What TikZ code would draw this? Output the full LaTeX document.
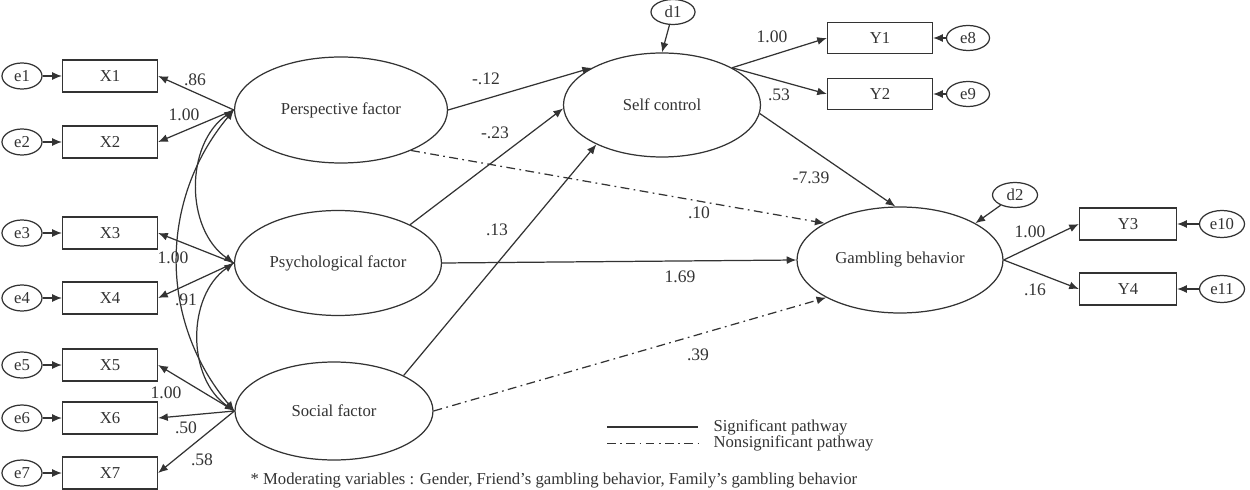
\documentclass[tikz,border=0pt]{standalone}
\usepackage{fontspec}
\setmainfont{Liberation Serif}
\usetikzlibrary{shapes, arrows.meta, positioning}
\tikzstyle{every node}=[font=\fontsize{9.5}{11}\selectfont]
\tikzstyle{obs}=[draw,fill=white,rectangle,minimum width=1.9cm,minimum height=0.64cm,inner sep=0pt]
\tikzstyle{latent}=[draw,fill=white,ellipse,inner sep=0pt]
\tikzstyle{err}=[draw,fill=white,ellipse,minimum width=0.8cm,minimum height=0.52cm,inner sep=0pt]
\tikzstyle{coef}=[font=\fontsize{10}{12}\selectfont,inner sep=0pt]
\tikzstyle{nonsig}=[dash pattern=on 5pt off 2.5pt on 1pt off 2.5pt]

\begin{document}
\begin{tikzpicture}[node distance=1.76cm,>={Latex[length=5.5pt,width=4.5pt]},color=black!80,line width=0.7pt]
    \useasboundingbox (0,0) rectangle (25,9.78);
    \node[obs] (X1) at (2.2,8.26) {X1};
    \node[obs] (X2) at (2.2,6.94) {X2};
    \node[obs] (X3) at (2.2,5.12) {X3};
    \node[obs] (X4) at (2.2,3.82) {X4};
    \node[obs] (X5) at (2.2,2.48) {X5};
    \node[obs] (X6) at (2.2,1.42) {X6};
    \node[obs] (X7) at (2.2,0.32) {X7};
    \node[err, left of=X1] (e1) {e1};
    \node[err, left of=X2] (e2) {e2};
    \node[err, left of=X3] (e3) {e3};
    \node[err, left of=X4] (e4) {e4};
    \node[err, left of=X5] (e5) {e5};
    \node[err, left of=X6] (e6) {e6};
    \node[err, left of=X7] (e7) {e7};
    \node[latent, minimum width=4.26cm, minimum height=2.12cm] (persp) at (6.82,7.58) {Perspective factor};
    \node[latent, minimum width=4.14cm, minimum height=2.1cm] (psych) at (6.76,4.52) {Psychological factor};
    \node[latent, minimum width=3.96cm, minimum height=1.96cm] (social) at (6.68,1.56) {Social factor};
    \node[latent, minimum width=3.94cm, minimum height=2.08cm] (self) at (13.24,7.68) {Self control};
    \node[latent, minimum width=4.12cm, minimum height=2.12cm] (gamb) at (18.0,4.58) {Gambling behavior};
    \node[err, minimum width=0.88cm, minimum height=0.5cm] (d1) at (13.46,9.54) {d1};
    \node[err, minimum width=0.9cm, minimum height=0.5cm] (d2) at (20.3,5.88) {d2};
    \node[obs, minimum width=2.1cm, minimum height=0.62cm] (Y1) at (17.6,9.02) {Y1};
    \node[obs, minimum width=2.1cm, minimum height=0.62cm] (Y2) at (17.6,7.9) {Y2};
    \node[err, right of=Y1, minimum width=0.86cm, minimum height=0.5cm] (e8) {e8};
    \node[err, right of=Y2, minimum width=0.86cm, minimum height=0.5cm] (e9) {e9};
    \node[obs, minimum width=1.94cm] (Y3) at (22.56,5.3) {Y3};
    \node[obs, minimum width=1.94cm] (Y4) at (22.56,4.0) {Y4};
    \node[err, right of=Y3, node distance=1.88cm, minimum width=0.9cm, minimum height=0.54cm] (e10) {e10};
    \node[err, right of=Y4, node distance=1.88cm, minimum width=0.9cm, minimum height=0.54cm] (e11) {e11};
    \draw[->] (e1) -- (X1);
    \draw[->] (e2) -- (X2);
    \draw[->] (e3) -- (X3);
    \draw[->] (e4) -- (X4);
    \draw[->] (e5) -- (X5);
    \draw[->] (e6) -- (X6);
    \draw[->] (e7) -- (X7);
    \draw[->] (persp.west) -- (X1.east);
    \draw[->] (persp.west) -- (X2.east);
    \draw[->] (psych.west) -- (X3.east);
    \draw[->] (psych.west) -- (X4.east);
    \draw[->] (social.west) -- (X5.east);
    \draw[->] (social.west) -- (X6.east);
    \draw[->] (social.west) -- (X7.east);
    \draw[<->] (persp.west) to[bend right=55] (psych.west);
    \draw[<->] (psych.west) to[bend right=55] (social.west);
    \draw[<->] (persp.west) to[bend right=40] (social.west);
    \draw[->] (persp.east) -- (self.152);
    \draw[->] (psych.28) -- (self.182);
    \draw[->] (social.27) -- (self.211);
    \draw[->, nonsig] (persp.-30) -- (gamb.154);
    \draw[->] (psych.east) -- (gamb.west);
    \draw[->, nonsig] (social.east) -- (gamb.207);
    \draw[->] (self.-5) -- (gamb.95);
    \draw[->] (d1) -- (self.north);
    \draw[->] (d2) -- (gamb.26);
    \draw[->] (self.28) -- (Y1.west);
    \draw[->] (self.28) -- (Y2.west);
    \draw[->] (e8) -- (Y1);
    \draw[->] (e9) -- (Y2);
    \draw[->] (gamb.east) -- (Y3.west);
    \draw[->] (gamb.east) -- (Y4.west);
    \draw[->] (e10) -- (Y3);
    \draw[->] (e11) -- (Y4);
    \node[coef] (c1) at (3.9,8.18) {.86};
    \node[coef] (c2) at (3.68,7.48) {1.00};
    \node[coef] (c3) at (3.46,4.62) {1.00};
    \node[coef] (c4) at (3.72,3.78) {.91};
    \node[coef] (c5) at (3.32,1.92) {1.00};
    \node[coef] (c6) at (3.72,1.22) {.50};
    \node[coef] (c7) at (4.04,0.58) {.58};
    \node[coef] (c8) at (9.72,8.2) {-.12};
    \node[coef] (c9) at (9.9,7.12) {-.23};
    \node[coef] (c10) at (9.94,5.18) {.13};
    \node[coef] (c11) at (13.98,5.52) {.10};
    \node[coef] (c12) at (13.6,4.24) {1.69};
    \node[coef] (c13) at (13.96,2.68) {.39};
    \node[coef] (c14) at (16.22,6.22) {-7.39};
    \node[coef] (c15) at (15.44,9.04) {1.00};
    \node[coef] (c16) at (15.58,7.88) {.53};
    \node[coef] (c17) at (20.6,5.14) {1.00};
    \node[coef] (c18) at (20.7,3.98) {.16};
    \coordinate (sigstart) at (12.14,1.24);
    \coordinate (nsstart) at (12.14,0.92);
    \node[anchor=west, inner xsep=8.5pt, inner ysep=0pt] (sigtxt) at (13.96,1.24) {Significant pathway};
    \node[anchor=west, inner xsep=8.5pt, inner ysep=0pt] (nstxt) at (13.96,0.92) {Nonsignificant pathway};
    \draw (sigstart) -- (sigtxt.west);
    \draw[nonsig, line width=0.5pt] (nsstart) -- (nstxt.west);
    \node[anchor=south west, inner sep=0pt] (note) at (5.0,0.01) {* Moderating variables : Gender, Friend's gambling behavior, Family's gambling behavior};
\end{tikzpicture}
\end{document}
